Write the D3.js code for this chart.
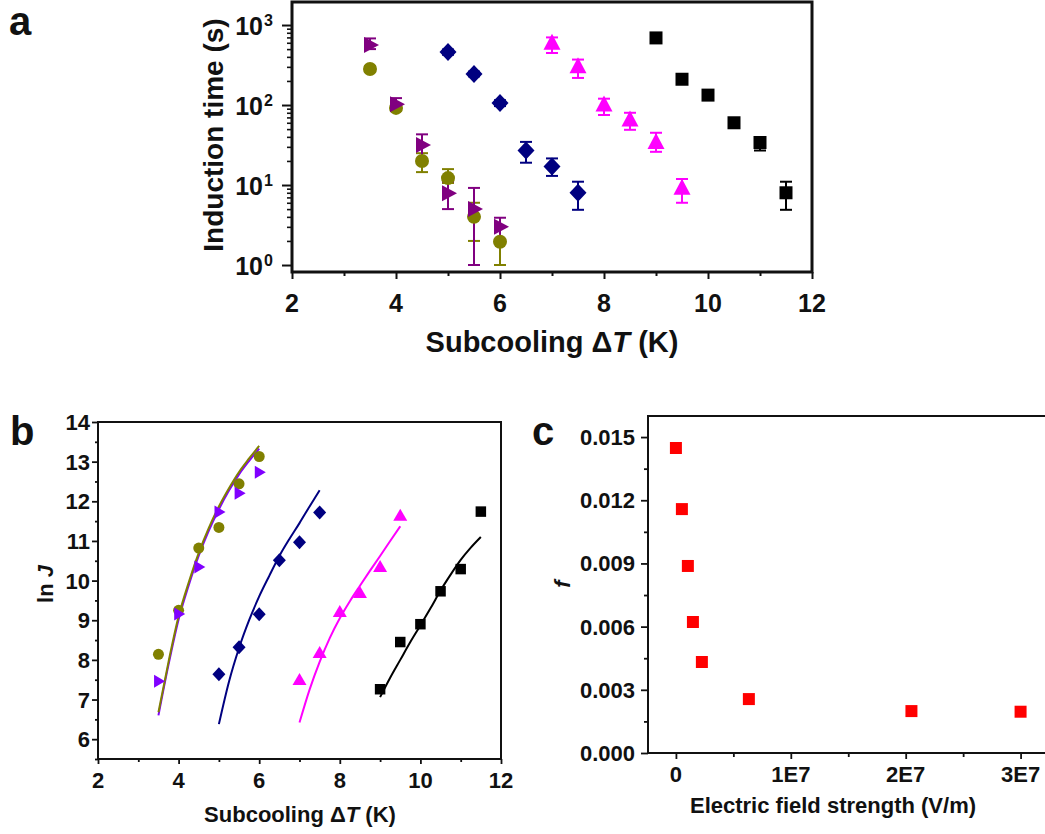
<!DOCTYPE html>
<html><head><meta charset="utf-8">
<script src="https://cdn.jsdelivr.net/npm/d3@7"></script>
<style>
body{margin:0;background:#fff}
svg{display:block}
text{font-family:"Liberation Sans",Arial,Helvetica,sans-serif;font-weight:bold;fill:#111}
</style>
</head><body>
<svg id="chart" width="1045" height="834"></svg>
<script>
// ---------- Panel a data (induction time, s) ----------
const aOliveX = [3.5, 4, 4.5, 5, 5.5, 6];
const aOliveY = [282, 92, 20, 12.2, 4, 1.95];
const aOliveLo = [262, 85, 14.5, 10.6, 2, 1];
const aOliveHi = [305, 100, 25, 15.8, 6, 3];

const aPurpleX = [3.5, 4, 4.5, 5, 5.5, 6];
const aPurpleY = [562, 102, 31.6, 7.9, 5, 3];
const aPurpleLo = [500, 91, 21, 5, 1, 2];
const aPurpleHi = [680, 122, 43, 11, 9.2, 3.9];

const aNavyX = [5, 5.5, 6, 6.5, 7, 7.5];
const aNavyY = [460, 245, 106, 27, 17, 8];
const aNavyLo = [425, 228, 97, 19, 13, 4.9];
const aNavyHi = [495, 262, 115, 34.6, 21.5, 11];

const aMagentaX = [7, 7.5, 8, 8.5, 9, 9.5];
const aMagentaY = [590, 300, 100, 65, 34, 9.1];
const aMagentaLo = [447, 218, 75, 49, 26, 6];
const aMagentaHi = [700, 370, 120, 80, 45, 11.9];

const aBlackX = [9, 9.5, 10, 10.5, 11, 11.5];
const aBlackY = [690, 210, 133, 60, 34, 8];
const aBlackLo = [645, 196, 122, 56, 27, 4.9];
const aBlackHi = [735, 228, 145, 64, 38, 11];

const aXTicks = [2, 4, 6, 8, 10, 12];
const aXMinor = [3, 5, 7, 9, 11];
const aYExp = [0, 1, 2, 3];

// ---------- Panel b data (ln J) ----------
const bOliveX = [3.5, 4, 4.5, 5, 5.5, 6];
const bOliveY = [8.14, 9.25, 10.82, 11.34, 12.44, 13.13];
const bPurpleX = [3.5, 4, 4.5, 5, 5.5, 6];
const bPurpleY = [7.46, 9.16, 10.34, 11.73, 12.2, 12.73];
const bNavyX = [5, 5.5, 6, 6.5, 7, 7.5];
const bNavyY = [7.64, 8.32, 9.15, 10.51, 10.97, 11.72];
const bMagentaX = [7, 7.5, 8, 8.5, 9, 9.5];
const bMagentaY = [7.49, 8.17, 9.2, 9.68, 10.34, 11.63];
const bBlackX = [9, 9.5, 10, 10.5, 11, 11.5];
const bBlackY = [7.26, 8.45, 8.9, 9.73, 10.29, 11.74];

// fitted curves
const fitOliveX = [3.5, 3.75, 4, 4.25, 4.5, 4.75, 5, 5.25, 5.5, 5.75, 6];
const fitOliveY = [6.68, 7.95, 9.1, 9.95, 10.7, 11.33, 11.87, 12.33, 12.74, 13.08, 13.4];
const fitPurpleX = [3.5, 3.75, 4, 4.25, 4.5, 4.75, 5, 5.25, 5.5, 5.75, 6];
const fitPurpleY = [6.6, 7.88, 9.02, 9.88, 10.63, 11.26, 11.8, 12.27, 12.68, 13.02, 13.33];
const fitNavyX = [5, 5.25, 5.5, 5.75, 6, 6.25, 6.5, 6.75, 7, 7.25, 7.5];
const fitNavyY = [6.38, 7.45, 8.3, 9.0, 9.6, 10.12, 10.62, 11.05, 11.45, 11.87, 12.28];
const fitMagentaX = [7, 7.25, 7.5, 7.75, 8, 8.25, 8.5, 8.75, 9, 9.25, 9.5];
const fitMagentaY = [6.42, 7.25, 7.95, 8.55, 9.05, 9.48, 9.87, 10.25, 10.62, 11.0, 11.37];
const fitBlackX = [9, 9.25, 9.5, 9.75, 10, 10.25, 10.5, 10.75, 11, 11.25, 11.5];
const fitBlackY = [7.06, 7.55, 8.0, 8.45, 8.87, 9.3, 9.75, 10.15, 10.52, 10.83, 11.1];

const bXTicks = [2, 4, 6, 8, 10, 12];
const bXMinor = [3, 5, 7, 9, 11];
const bYTicks = [6, 7, 8, 9, 10, 11, 12, 13, 14];
const bYMinor = [5.5, 6.5, 7.5, 8.5, 9.5, 10.5, 11.5, 12.5, 13.5];

// ---------- Panel c data (f vs field) ----------
const cFieldX = [0, 5.2e5, 1.04e6, 1.48e6, 2.26e6, 6.35e6, 2.05e7, 3.0e7];
const cFY = [0.01448, 0.01158, 0.00888, 0.00622, 0.00432, 0.00256, 0.00199, 0.00196];
const cXTicks = [0, 1e7, 2e7, 3e7];
const cXLabels = ["0", "1E7", "2E7", "3E7"];
const cXMinor = [5e6, 1.5e7, 2.5e7];
const cYTicks = [0, 0.003, 0.006, 0.009, 0.012, 0.015];
const cYMinor = [0.0015, 0.0045, 0.0075, 0.0105, 0.0135];

// ---------- helpers ----------
const svg = d3.select("#chart");
const OLIVE = "#808000", PURPLE_A = "#800080", VIOLET = "#8000ff", NAVY = "#000080", MAGENTA = "#ff00ff", BLACK = "#000000", RED = "#ff0000";

function shape(type, w, h) {
  switch (type) {
    case "square": return `M${-w/2},${-h/2}h${w}v${h}h${-w}Z`;
    case "diamond": return `M0,${-h/2}L${w/2},0L0,${h/2}L${-w/2},0Z`;
    case "triUp": return `M0,${-h*0.6}L${w/2},${h*0.4}L${-w/2},${h*0.4}Z`;
    case "triRight": return `M${w*0.6},0L${-w*0.4},${-h/2}L${-w*0.4},${h/2}Z`;
    case "circle": {
      const r = w/2;
      return `M${r},0A${r},${r} 0 1,1 ${-r},0A${r},${r} 0 1,1 ${r},0Z`;
    }
  }
}

function drawMarkers(g, xs, ys, xScale, yScale, type, w, h, color) {
  g.append("g").selectAll("path").data(xs.map((x, i) => [x, ys[i]])).join("path")
    .attr("transform", d => `translate(${xScale(d[0])},${yScale(d[1])})`)
    .attr("d", shape(type, w, h))
    .attr("fill", color);
}

function drawErrors(g, xs, lo, hi, xScale, yScale, color, cap) {
  const eg = g.append("g").attr("stroke", color).attr("stroke-width", 2).attr("fill", "none");
  xs.forEach((x, i) => {
    const px = xScale(x), y1 = yScale(lo[i]), y2 = yScale(hi[i]);
    eg.append("line").attr("x1", px).attr("x2", px).attr("y1", y1).attr("y2", y2);
    eg.append("line").attr("x1", px - cap/2).attr("x2", px + cap/2).attr("y1", y1).attr("y2", y1);
    eg.append("line").attr("x1", px - cap/2).attr("x2", px + cap/2).attr("y1", y2).attr("y2", y2);
  });
}

function tickAxis(g, axisGen, vals, size, sw, transform) {
  const t = g.append("g").attr("transform", transform)
    .call(axisGen.tickValues(vals).tickSize(size).tickFormat(""));
  t.select(".domain").remove();
  t.selectAll("line").attr("stroke", "#111").attr("stroke-width", sw);
}

function fitLine(g, xs, ys, xScale, yScale, color, sw) {
  g.append("path").datum(xs.map((x, i) => [x, ys[i]]))
    .attr("d", d3.line().x(d => xScale(d[0])).y(d => yScale(d[1])).curve(d3.curveMonotoneX))
    .attr("fill", "none").attr("stroke", color).attr("stroke-width", sw);
}

function deltaTitle(g, x, y, size) {
  const t = g.append("text").attr("x", x).attr("y", y).attr("text-anchor", "middle").attr("font-size", size);
  t.append("tspan").text("Subcooling \u0394");
  t.append("tspan").attr("font-style", "italic").text("T");
  t.append("tspan").text(" (K)");
}

// ================= Panel a =================
{
  const g = svg.append("g");
  const x = d3.scaleLinear().domain([2, 12]).range([292, 812]);
  const y = d3.scaleLog().domain([0.818, 1940]).range([272, 2]);
  const [x0, x1] = x.range(), [yb, yt] = y.range();

  const minor = [];
  aYExp.forEach(k => { for (let m = 2; m <= 9; m++) { const v = m * Math.pow(10, k); if (v < y.domain()[1]) minor.push(v); } });
  tickAxis(g, d3.axisLeft(y), aYExp.map(k => Math.pow(10, k)), 10, 2, `translate(${x0},0)`);
  tickAxis(g, d3.axisLeft(y), minor, 5, 1.6, `translate(${x0},0)`);
  tickAxis(g, d3.axisBottom(x), aXTicks, 7, 2, `translate(0,${yb})`);
  tickAxis(g, d3.axisBottom(x), aXMinor, 4, 2, `translate(0,${yb})`);

  g.append("rect").attr("x", x0).attr("y", yt).attr("width", x1 - x0).attr("height", yb - yt)
    .attr("fill", "none").attr("stroke", "#111").attr("stroke-width", 3);

  aYExp.forEach(k => {
    const py = y(Math.pow(10, k));
    g.append("text").attr("x", 263).attr("y", py + 10).attr("text-anchor", "end").attr("font-size", 25).text("10");
    g.append("text").attr("x", 264).attr("y", py + 1).attr("font-size", 16).text(k);
  });
  aXTicks.forEach(v => {
    g.append("text").attr("x", x(v)).attr("y", 312).attr("text-anchor", "middle").attr("font-size", 25).text(v);
  });

  deltaTitle(g, 552, 352, 29);
  g.append("text").attr("transform", "translate(223,135) rotate(-90)").attr("text-anchor", "middle")
    .attr("font-size", 28).text("Induction time (s)");
  g.append("text").attr("x", 9).attr("y", 35).attr("font-size", 40).attr("fill", "#222").text("a");

  drawErrors(g, aOliveX, aOliveLo, aOliveHi, x, y, OLIVE, 12);
  drawErrors(g, aPurpleX, aPurpleLo, aPurpleHi, x, y, PURPLE_A, 12);
  drawErrors(g, aNavyX, aNavyLo, aNavyHi, x, y, NAVY, 12);
  drawErrors(g, aMagentaX, aMagentaLo, aMagentaHi, x, y, MAGENTA, 12);
  drawErrors(g, aBlackX, aBlackLo, aBlackHi, x, y, BLACK, 12);

  drawMarkers(g, aOliveX, aOliveY, x, y, "circle", 14, 14, OLIVE);
  drawMarkers(g, aPurpleX, aPurpleY, x, y, "triRight", 15, 16, PURPLE_A);
  drawMarkers(g, aNavyX, aNavyY, x, y, "diamond", 17, 18, NAVY);
  drawMarkers(g, aMagentaX, aMagentaY, x, y, "triUp", 17, 16, MAGENTA);
  drawMarkers(g, aBlackX, aBlackY, x, y, "square", 13, 13, BLACK);
}

// ================= Panel b =================
{
  const g = svg.append("g");
  const x = d3.scaleLinear().domain([2, 12]).range([98, 501]);
  const y = d3.scaleLinear().domain([5.5, 14]).range([759, 422]);
  const [x0, x1] = x.range(), [yb, yt] = y.range();

  tickAxis(g, d3.axisLeft(y), bYTicks, 6, 1.8, `translate(${x0},0)`);
  tickAxis(g, d3.axisLeft(y), bYMinor, 3, 1.8, `translate(${x0},0)`);
  tickAxis(g, d3.axisBottom(x), bXTicks, 5, 1.8, `translate(0,${yb})`);
  tickAxis(g, d3.axisBottom(x), bXMinor, 3, 1.8, `translate(0,${yb})`);

  g.append("rect").attr("x", x0).attr("y", yt).attr("width", x1 - x0).attr("height", yb - yt)
    .attr("fill", "none").attr("stroke", "#111").attr("stroke-width", 2);

  bYTicks.forEach(v => {
    g.append("text").attr("x", 90).attr("y", y(v) + 8).attr("text-anchor", "end").attr("font-size", 22).text(v);
  });
  bXTicks.forEach(v => {
    g.append("text").attr("x", x(v)).attr("y", 788).attr("text-anchor", "middle").attr("font-size", 22).text(v);
  });
  deltaTitle(g, 300, 822, 22);
  const yl = g.append("text").attr("transform", "translate(53,584) rotate(-90)").attr("text-anchor", "middle").attr("font-size", 22);
  yl.append("tspan").text("ln ");
  yl.append("tspan").attr("font-style", "italic").text("J");
  g.append("text").attr("x", 10).attr("y", 445).attr("font-size", 40).attr("fill", "#222").text("b");

  fitLine(g, fitPurpleX, fitPurpleY, x, y, VIOLET, 2);
  fitLine(g, fitOliveX, fitOliveY, x, y, OLIVE, 2);
  fitLine(g, fitNavyX, fitNavyY, x, y, NAVY, 2);
  fitLine(g, fitMagentaX, fitMagentaY, x, y, MAGENTA, 2);
  fitLine(g, fitBlackX, fitBlackY, x, y, BLACK, 2);

  drawMarkers(g, bOliveX, bOliveY, x, y, "circle", 11, 11, OLIVE);
  drawMarkers(g, bPurpleX, bPurpleY, x, y, "triRight", 11, 13, VIOLET);
  drawMarkers(g, bNavyX, bNavyY, x, y, "diamond", 13, 14, NAVY);
  drawMarkers(g, bMagentaX, bMagentaY, x, y, "triUp", 14, 12, MAGENTA);
  drawMarkers(g, bBlackX, bBlackY, x, y, "square", 10.5, 10.5, BLACK);
}

// ================= Panel c =================
{
  const g = svg.append("g");
  const x = d3.scaleLinear().domain([-2.43e6, 3.23e7]).range([648, 1047]);
  const y = d3.scaleLinear().domain([0, 0.016]).range([753, 416]);
  const [x0, x1] = x.range(), [yb, yt] = y.range();

  tickAxis(g, d3.axisLeft(y), cYTicks, 7, 1.8, `translate(${x0},0)`);
  tickAxis(g, d3.axisLeft(y), cYMinor, 4, 1.8, `translate(${x0},0)`);
  tickAxis(g, d3.axisBottom(x), cXTicks, 6, 1.8, `translate(0,${yb})`);
  tickAxis(g, d3.axisBottom(x), cXMinor, 4, 1.8, `translate(0,${yb})`);

  g.append("rect").attr("x", x0).attr("y", yt).attr("width", x1 - x0).attr("height", yb - yt)
    .attr("fill", "none").attr("stroke", "#111").attr("stroke-width", 2);

  const fmt = d3.format(".3f");
  cYTicks.forEach(v => {
    g.append("text").attr("x", 635).attr("y", y(v) + 8).attr("text-anchor", "end").attr("font-size", 22).text(fmt(v));
  });
  cXTicks.forEach((v, i) => {
    g.append("text").attr("x", x(v)).attr("y", 782).attr("text-anchor", "middle").attr("font-size", 22).text(cXLabels[i]);
  });
  g.append("text").attr("x", 833).attr("y", 813).attr("text-anchor", "middle").attr("font-size", 22).text("Electric field strength (V/m)");
  g.append("text").attr("transform", "translate(570,584) rotate(-90)").attr("text-anchor", "middle")
    .attr("font-size", 22).attr("font-style", "italic").text("f");
  g.append("text").attr("x", 532).attr("y", 445).attr("font-size", 40).attr("fill", "#222").text("c");

  drawMarkers(g, cFieldX, cFY, x, y, "square", 12, 12, RED);
}
</script>
</body></html>
